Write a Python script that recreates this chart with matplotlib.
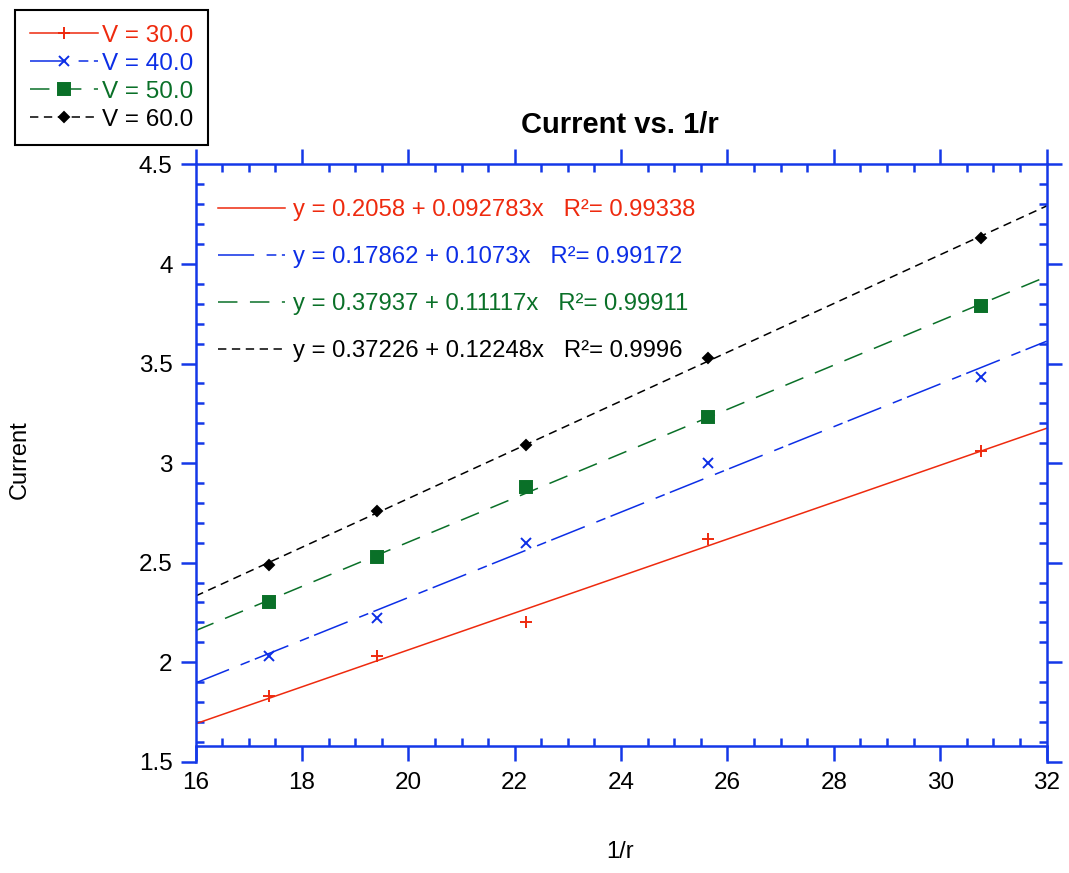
import numpy as np
import matplotlib
matplotlib.use('Agg')
import matplotlib.pyplot as plt
from matplotlib.ticker import MultipleLocator, FormatStrFormatter
from matplotlib.legend_handler import HandlerTuple

plt.rcParams['font.family'] = ['Liberation Sans', 'DejaVu Sans']
plt.rcParams['lines.scale_dashes'] = False

# данные: 1/r и ток для четырёх напряжений
inv_r = [17.39, 19.42, 22.22, 25.64, 30.77]
voltages = ['30.0', '40.0', '50.0', '60.0']
current_30 = [1.83, 2.03, 2.20, 2.62, 3.06]
current_40 = [2.03, 2.22, 2.60, 3.00, 3.43]
current_50 = [2.30, 2.53, 2.88, 3.23, 3.79]
current_60 = [2.49, 2.76, 3.09, 3.53, 4.13]

# коэффициенты линейной аппроксимации y = a + b*x и R^2
fit_a = [0.2058, 0.17862, 0.37937, 0.37226]
fit_b = [0.092783, 0.1073, 0.11117, 0.12248]
fit_a_txt = ['0.2058', '0.17862', '0.37937', '0.37226']
fit_b_txt = ['0.092783', '0.1073', '0.11117', '0.12248']
fit_r2_txt = ['0.99338', '0.99172', '0.99911', '0.9996']

# оформление серий
colors = ['#ee2a0e', '#0c2ee6', '#0a7028', '#000000']
markers = ['+', 'x', 's', 'D']
msizes = [9, 7, 9, 5.5]
dashes = [None, (26, 9, 7, 4), (14, 9), (6, 4)]
axis_blue = '#1438e8'

x_min, x_max = 16, 32
y_min, y_max = 1.5, 4.5

fig = plt.figure(figsize=(10.69, 8.73), dpi=100)
ax = fig.add_axes([0.1829, 0.1275, 0.7962, 0.6841])

series = [current_30, current_40, current_50, current_60]
x_fit = np.linspace(x_min, x_max, 2)

legend_handles = []
fit_lines = []
for i, ys in enumerate(series):
    y_fit = fit_a[i] + fit_b[i] * x_fit
    if dashes[i] is None:
        line, = ax.plot(x_fit, y_fit, color=colors[i], lw=1.1)
    else:
        line, = ax.plot(x_fit, y_fit, color=colors[i], lw=1.1, dashes=dashes[i])
    pts, = ax.plot(inv_r, ys, linestyle='none', marker=markers[i], ms=msizes[i],
                   mew=1.4, color=colors[i])
    fit_lines.append(line)
    legend_handles.append((line, pts))

ax.set_xlim(x_min, x_max)
ax.set_ylim(y_min, y_max)

# оси
for side in ['left', 'right', 'top', 'bottom']:
    ax.spines[side].set_color(axis_blue)
    ax.spines[side].set_linewidth(1.8)
ax.spines['bottom'].set_position(('data', 1.579))

ax.xaxis.set_major_locator(MultipleLocator(2))
ax.xaxis.set_minor_locator(MultipleLocator(0.5))
ax.yaxis.set_major_locator(MultipleLocator(0.5))
ax.yaxis.set_minor_locator(MultipleLocator(0.1))
ax.yaxis.set_major_formatter(FormatStrFormatter('%g'))

ax.tick_params(which='both', top=True, right=True, color=axis_blue, width=1.8,
               labelsize=17.5, labelcolor='black')
ax.tick_params(which='major', direction='out', length=10.5, pad=6)
ax.tick_params(axis='x', which='major', pad=8)
ax.tick_params(which='minor', direction='in', length=6)

# подписи
fig.text(620 / 1069, 1 - 125 / 873, 'Current vs. 1/r', ha='center', va='center',
         fontsize=21, fontweight='bold')
fig.text(620 / 1069, 1 - 852 / 873, '1/r', ha='center', va='center', fontsize=17)
fig.text(20 / 1069, 1 - 460 / 873, 'Current', ha='center', va='center',
         rotation=90, fontsize=17)

# легенда серий
leg = fig.legend(legend_handles, ['V = ' + v for v in voltages],
                 handler_map={tuple: HandlerTuple(ndivide=1)},
                 loc='upper left', bbox_to_anchor=(15 / 1069, 1 - 10 / 873),
                 borderaxespad=0, fontsize=17.5, numpoints=1, handlelength=2.8,
                 handletextpad=0.2, labelspacing=0.25, borderpad=0.6,
                 fancybox=False, edgecolor='black', framealpha=1)
leg.get_frame().set_linewidth(1.5)
for t, c in zip(leg.get_texts(), colors):
    t.set_color(c)

# легенда аппроксимаций
eq_labels = ['y = %s + %sx   R\u00b2= %s' % (a, b, r) for a, b, r in
             zip(fit_a_txt, fit_b_txt, fit_r2_txt)]
leg2 = ax.legend(fit_lines, eq_labels, loc='upper left',
                 bbox_to_anchor=(0.0264, 0.942), borderaxespad=0, borderpad=0,
                 fontsize=17.2, frameon=False, handlelength=2.8,
                 handletextpad=0.33, labelspacing=1.05)
for t, c in zip(leg2.get_texts(), colors):
    t.set_color(c)

fig.savefig('out.png', dpi=100)
